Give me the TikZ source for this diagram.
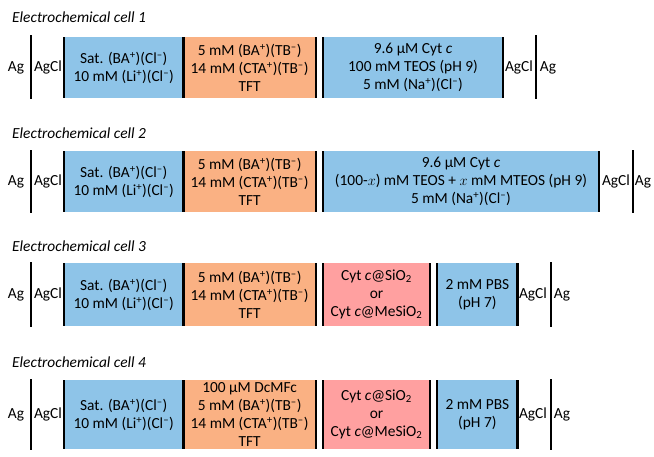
\documentclass[tikz,border=0pt]{standalone}
\usepackage{fontspec}
\setmainfont{Carlito}
\usetikzlibrary{positioning}

\definecolor{cellblue}{RGB}{142,196,232}
\definecolor{cellorange}{RGB}{250,177,131}
\definecolor{cellpink}{RGB}{255,160,160}

\newcommand{\cellfont}{\fontsize{15.4}{18}\selectfont}
\newcommand{\ion}[1]{\textsuperscript{#1}}

\begin{document}
\begin{tikzpicture}[
    x=1pt, y=-1pt, % pixel-like units, y downwards
    title/.style={font=\cellfont\itshape, anchor=west, inner sep=0pt}, % Style for cell titles
    electrode/.style={font=\cellfont, inner sep=0pt}, % Ag / AgCl labels
    phase/.style={font=\cellfont, align=center, inner sep=0pt, anchor=north west}, % Coloured phases
    bar/.style={line width=2.4pt} % Interface lines
]
    \useasboundingbox (0,0) rectangle (654,456);

    % --- Electrochemical cell 1 ---
    \node[title] (t1) at (12,17) {Electrochemical cell 1};
    \node[phase, fill=cellblue, minimum width=119pt, minimum height=61pt] (aq1) at (64,37)
        {Sat. (BA\ion{+})(Cl\ion{--})\\10 mM (Li\ion{+})(Cl\ion{--})};
    \node[phase, fill=cellorange, minimum width=132pt, minimum height=61pt, right=0pt of aq1] (org1)
        {5 mM (BA\ion{+})(TB\ion{--})\\14 mM (CTA\ion{+})(TB\ion{--})\\TFT};
    \node[phase, fill=cellblue, minimum width=180pt, minimum height=61pt, right=7pt of org1] (sol1)
        {9.6 µM Cyt \textit{c}\\100 mM TEOS (pH 9)\\5 mM (Na\ion{+})(Cl\ion{--})};
    \node[electrode] (ag1l) at (16,67.5) {Ag};
    \node[electrode] (agcl1l) at (48,67.5) {AgCl};
    \node[electrode] (agcl1r) at (519,67.5) {AgCl};
    \node[electrode] (ag1r) at (548,67.5) {Ag};
    \draw[bar] (31,35) -- (31,99);
    \draw[bar] (aq1.north west) -- (aq1.south west);
    \draw[bar] (org1.north west) -- (org1.south west);
    \draw[bar] (org1.north east) -- (org1.south east);
    \draw[bar] (sol1.north west) -- (sol1.south west);
    \draw[bar] (sol1.north east) -- (sol1.south east);
    \draw[bar] (536,35) -- (536,99);

    % --- Electrochemical cell 2 ---
    \node[title] (t2) at (12,133) {Electrochemical cell 2};
    \node[phase, fill=cellblue, minimum width=119pt, minimum height=61pt] (aq2) at (64,151)
        {Sat. (BA\ion{+})(Cl\ion{--})\\10 mM (Li\ion{+})(Cl\ion{--})};
    \node[phase, fill=cellorange, minimum width=132pt, minimum height=61pt, right=0pt of aq2] (org2)
        {5 mM (BA\ion{+})(TB\ion{--})\\14 mM (CTA\ion{+})(TB\ion{--})\\TFT};
    \node[phase, fill=cellblue, minimum width=276pt, minimum height=61pt, right=7pt of org2] (sol2)
        {9.6 µM Cyt \textit{c}\\(100-$x$) mM TEOS + $x$ mM MTEOS (pH 9)\\5 mM (Na\ion{+})(Cl\ion{--})};
    \node[electrode] (ag2l) at (16,181.5) {Ag};
    \node[electrode] (agcl2l) at (48,181.5) {AgCl};
    \node[electrode] (agcl2r) at (616,181.5) {AgCl};
    \node[electrode] (ag2r) at (643,181.5) {Ag};
    \draw[bar] (31,150) -- (31,213);
    \draw[bar] (aq2.north west) -- (aq2.south west);
    \draw[bar] (org2.north west) -- (org2.south west);
    \draw[bar] (org2.north east) -- (org2.south east);
    \draw[bar] (sol2.north west) -- (sol2.south west);
    \draw[bar] (sol2.north east) -- (sol2.south east);
    \draw[bar] (633,150) -- (633,213);

    % --- Electrochemical cell 3 ---
    \node[title] (t3) at (12,246) {Electrochemical cell 3};
    \node[phase, fill=cellblue, minimum width=119pt, minimum height=63pt] (aq3) at (64,263)
        {Sat. (BA\ion{+})(Cl\ion{--})\\10 mM (Li\ion{+})(Cl\ion{--})};
    \node[phase, fill=cellorange, minimum width=132pt, minimum height=63pt, right=0pt of aq3] (org3)
        {5 mM (BA\ion{+})(TB\ion{--})\\14 mM (CTA\ion{+})(TB\ion{--})\\TFT};
    \node[phase, fill=cellpink, minimum width=107pt, minimum height=63pt, right=7pt of org3] (gel3)
        {Cyt \textit{c}@SiO\textsubscript{2}\\or\\Cyt \textit{c}@MeSiO\textsubscript{2}};
    \node[phase, fill=cellblue, minimum width=80pt, minimum height=63pt, right=7pt of gel3] (pbs3)
        {2 mM PBS\\(pH 7)};
    \node[electrode] (ag3l) at (16,294.5) {Ag};
    \node[electrode] (agcl3l) at (48,294.5) {AgCl};
    \node[electrode] (agcl3r) at (533,294.5) {AgCl};
    \node[electrode] (ag3r) at (562,294.5) {Ag};
    \draw[bar] (31,262) -- (31,327);
    \draw[bar] (aq3.north west) -- (aq3.south west);
    \draw[bar] (org3.north west) -- (org3.south west);
    \draw[bar] (org3.north east) -- (org3.south east);
    \draw[bar] (gel3.north west) -- (gel3.south west);
    \draw[bar] (gel3.north east) -- (gel3.south east);
    \draw[bar] (pbs3.north west) -- (pbs3.south west);
    \draw[bar] (pbs3.north east) -- (pbs3.south east);
    \draw[bar] (551,262) -- (551,327);

    % --- Electrochemical cell 4 ---
    \node[title] (t4) at (12,362) {Electrochemical cell 4};
    \node[phase, fill=cellblue, minimum width=119pt, minimum height=69pt] (aq4) at (64,380)
        {Sat. (BA\ion{+})(Cl\ion{--})\\10 mM (Li\ion{+})(Cl\ion{--})};
    \node[phase, fill=cellorange, minimum width=132pt, minimum height=69pt, right=0pt of aq4] (org4)
        {100 µM DcMFc\\5 mM (BA\ion{+})(TB\ion{--})\\14 mM (CTA\ion{+})(TB\ion{--})\\TFT};
    \node[phase, fill=cellpink, minimum width=107pt, minimum height=69pt, right=7pt of org4] (gel4)
        {Cyt \textit{c}@SiO\textsubscript{2}\\or\\Cyt \textit{c}@MeSiO\textsubscript{2}};
    \node[phase, fill=cellblue, minimum width=80pt, minimum height=69pt, right=7pt of gel4] (pbs4)
        {2 mM PBS\\(pH 7)};
    \node[electrode] (ag4l) at (16,414.5) {Ag};
    \node[electrode] (agcl4l) at (48,414.5) {AgCl};
    \node[electrode] (agcl4r) at (533,414.5) {AgCl};
    \node[electrode] (ag4r) at (562,414.5) {Ag};
    \draw[bar] (31,379) -- (31,450);
    \draw[bar] (aq4.north west) -- (aq4.south west);
    \draw[bar] (org4.north west) -- (org4.south west);
    \draw[bar] (org4.north east) -- (org4.south east);
    \draw[bar] (gel4.north west) -- (gel4.south west);
    \draw[bar] (gel4.north east) -- (gel4.south east);
    \draw[bar] (pbs4.north west) -- (pbs4.south west);
    \draw[bar] (pbs4.north east) -- (pbs4.south east);
    \draw[bar] (551,379) -- (551,450);

\end{tikzpicture}
\end{document}
